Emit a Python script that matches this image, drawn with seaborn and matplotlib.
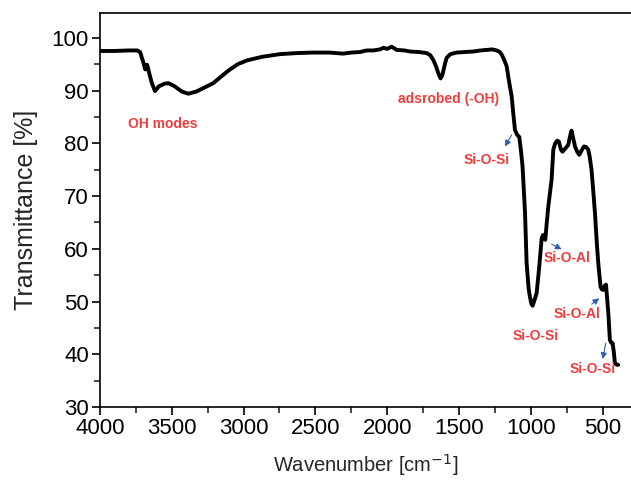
import matplotlib
matplotlib.use("Agg")
import matplotlib.pyplot as plt
from matplotlib.ticker import MultipleLocator
import seaborn as sns
import pandas as pd

# FTIR spectrum (wavenumber in cm-1, transmittance in %)
wavenumber = [
    4000, 3900, 3800, 3740, 3721, 3700, 3685, 3672, 3660, 3640, 3617, 3590,
    3550, 3524, 3480, 3430, 3385, 3330, 3270, 3211, 3150, 3095, 3040, 2978,
    2870, 2747, 2630, 2517, 2400, 2308, 2250, 2190, 2143, 2097, 2050, 2027,
    2000, 1969, 1950, 1934, 1880, 1841, 1780, 1725, 1700, 1679, 1660, 1644,
    1628, 1615, 1600, 1586, 1560, 1516, 1460, 1400, 1350, 1307, 1270, 1237,
    1215, 1202, 1185, 1168, 1150, 1133, 1122, 1110, 1095, 1080, 1068, 1057,
    1040, 1029, 1015, 1006, 995, 987, 975, 959, 941, 924, 915, 908,
    899, 890, 878, 855, 843, 830, 815, 804, 790, 779, 760, 739,
    725, 716, 705, 692, 675, 662, 645, 630, 615, 600, 590, 577,
    565, 553, 540, 530, 514, 505, 495, 485, 476, 468, 460, 449,
    440, 430, 422, 414, 400, 391,
]
transmittance = [
    97.5, 97.5, 97.6, 97.6, 97.3, 95.5, 94.0, 94.9, 93.6, 91.5, 89.9, 90.8,
    91.3, 91.4, 90.8, 89.8, 89.4, 89.8, 90.6, 91.4, 92.8, 94.0, 95.0, 95.7,
    96.4, 96.9, 97.1, 97.2, 97.2, 97.0, 97.2, 97.3, 97.6, 97.6, 97.8, 98.1,
    97.9, 98.3, 98.0, 97.7, 97.6, 97.4, 97.3, 97.1, 96.7, 95.8, 94.6, 93.3,
    92.3, 93.0, 94.8, 96.2, 96.9, 97.2, 97.3, 97.4, 97.6, 97.7, 97.8, 97.6,
    97.3, 96.8, 95.8, 94.6, 91.5, 88.9, 85.7, 82.5, 81.6, 81.2, 78.5, 75.5,
    66.8, 57.3, 52.5, 50.9, 49.5, 49.2, 50.2, 51.6, 56.6, 62.0, 62.6, 62.4,
    61.7, 64.5, 68.0, 73.1, 78.8, 80.0, 80.5, 80.3, 78.8, 78.4, 79.0, 79.7,
    81.5, 82.4, 81.0, 79.4, 78.3, 77.8, 78.7, 79.4, 79.3, 78.8, 77.5, 75.0,
    71.0, 66.8, 61.0, 57.3, 52.8, 52.3, 52.2, 53.0, 53.2, 50.5, 47.8, 42.7,
    42.2, 42.1, 40.5, 38.3, 38.0, 38.0,
]

# band labels: text, text position, arrow (tail -> head) or None
label_text = ["OH modes", "adsrobed (-OH)", "Si-O-Si", "Si-O-Al", "Si-O-Al", "Si-O-Si", "Si-O-Si"]
label_x = [3563, 1575, 1307, 750, 676, 964, 569]
label_y = [83.6, 88.4, 76.9, 58.2, 47.6, 43.5, 37.2]
arrow_tail = [None, None, (1133, 81.6), (855, 60.9), (576, 49.5), None, (478, 42.1)]
arrow_head = [None, None, (1180, 79.4), (785, 59.9), (523, 50.6), None, (499, 39.1)]

sns.set_style("ticks")
plt.rcParams["font.family"] = ["Liberation Sans", "DejaVu Sans"]

df = pd.DataFrame({"wavenumber": wavenumber, "transmittance": transmittance})

fig = plt.figure(figsize=(6.31, 4.83), dpi=100)
ax = fig.add_axes([100 / 631, 76 / 483, 531 / 631, 394 / 483])

sns.lineplot(data=df, x="wavenumber", y="transmittance", sort=False,
             color="black", linewidth=2.8, ax=ax)

ax.set_xlim(4000, 302)
ax.set_ylim(30, 104.7)
ax.xaxis.set_major_locator(MultipleLocator(500))
ax.xaxis.set_minor_locator(MultipleLocator(250))
ax.yaxis.set_major_locator(MultipleLocator(10))
ax.yaxis.set_minor_locator(MultipleLocator(5))
ax.tick_params(which="major", direction="out", length=6, width=1.2, labelsize=16,
               colors="black", pad=2)
ax.tick_params(which="minor", direction="out", length=4, width=1.2)
ax.spines["right"].set_visible(False)
for side in ["left", "bottom", "top"]:
    ax.spines[side].set_linewidth(1.2)
    ax.spines[side].set_color("black")

ax.set_xlabel("Wavenumber [cm$^{-1}$]", fontsize=14.5, labelpad=9)
ax.set_ylabel("Transmittance [%]", fontsize=18, labelpad=10)

for i, txt in enumerate(label_text):
    ax.text(label_x[i], label_y[i], txt, color="#f03c3c", fontsize=10,
            fontweight="bold", ha="center", va="center")
    if arrow_tail[i] is not None:
        ax.annotate("", xy=arrow_head[i], xytext=arrow_tail[i],
                    arrowprops=dict(arrowstyle="-|>", color="#2f5fb3", lw=0.8,
                                    mutation_scale=9, shrinkA=0, shrinkB=0))

fig.savefig("out.png", dpi=100)
